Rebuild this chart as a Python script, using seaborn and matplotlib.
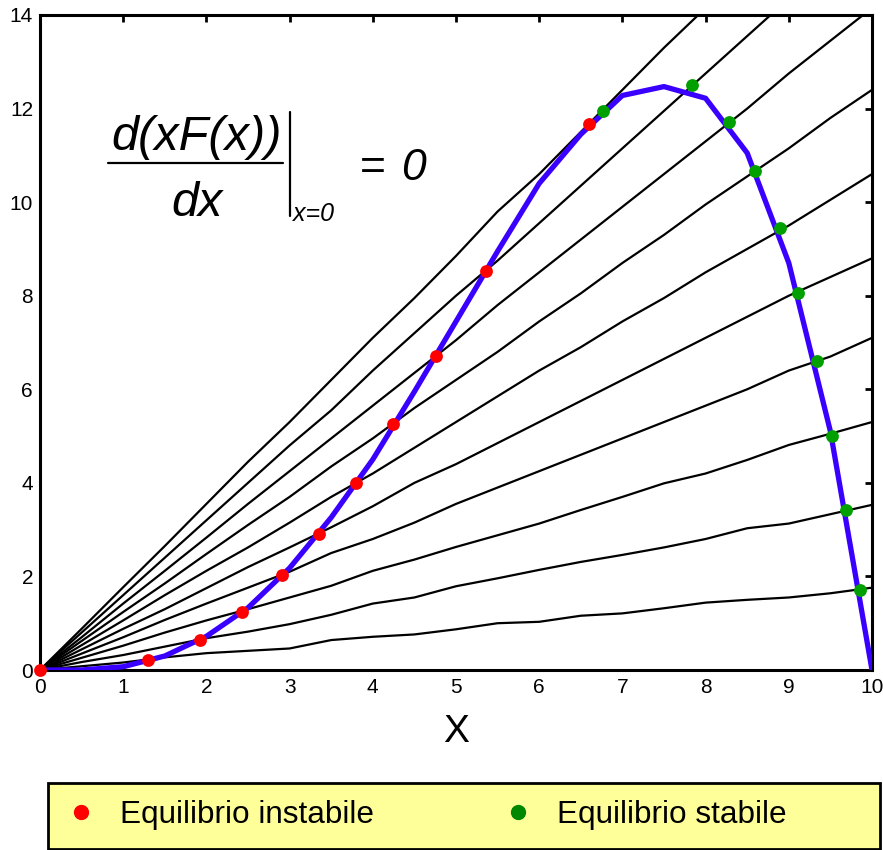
import matplotlib
matplotlib.use("Agg")
import matplotlib.pyplot as plt
from matplotlib.lines import Line2D
from matplotlib.patches import Rectangle
import numpy as np
import pandas as pd
import seaborn as sns

# ---- data -------------------------------------------------------------
x_grid = [0, 0.5, 1, 1.5, 2, 2.5, 3, 3.5, 4, 4.5, 5, 5.5, 6, 6.5, 7, 7.5, 8, 8.5, 9, 9.5, 10]

# family of (nearly straight) curves through the origin
line_1 = [0, 0.08, 0.16, 0.27, 0.36, 0.41, 0.46, 0.64, 0.71, 0.76, 0.87, 1.0, 1.03, 1.16, 1.21, 1.32, 1.44, 1.5, 1.55, 1.64, 1.76]
line_2 = [0, 0.17, 0.32, 0.5, 0.68, 0.82, 0.98, 1.18, 1.42, 1.55, 1.79, 1.96, 2.14, 2.31, 2.46, 2.62, 2.8, 3.03, 3.13, 3.33, 3.53]
line_3 = [0, 0.26, 0.52, 0.8, 1.06, 1.3, 1.55, 1.8, 2.12, 2.36, 2.63, 2.88, 3.13, 3.42, 3.70, 3.99, 4.2, 4.49, 4.81, 5.05, 5.3]
line_4 = [0, 0.35, 0.7, 1.07, 1.42, 1.76, 2.1, 2.5, 2.8, 3.15, 3.55, 3.9, 4.25, 4.6, 4.95, 5.3, 5.65, 6.0, 6.4, 6.7, 7.1]
line_5 = [0, 0.44, 0.88, 1.3, 1.75, 2.2, 2.62, 3.05, 3.5, 4.0, 4.4, 4.85, 5.3, 5.75, 6.2, 6.65, 7.1, 7.55, 8.0, 8.4, 8.8]
line_6 = [0, 0.53, 1.06, 1.6, 2.12, 2.62, 3.15, 3.7, 4.2, 4.75, 5.3, 5.85, 6.4, 6.9, 7.45, 7.95, 8.5, 9.0, 9.5, 10.05, 10.6]
line_7 = [0, 0.62, 1.24, 1.85, 2.48, 3.1, 3.7, 4.35, 4.95, 5.6, 6.2, 6.8, 7.45, 8.05, 8.7, 9.3, 9.95, 10.55, 11.15, 11.8, 12.4]
line_8 = [0, 0.7, 1.42, 2.12, 2.83, 3.55, 4.25, 4.95, 5.65, 6.35, 7.05, 7.8, 8.5, 9.2, 9.9, 10.6, 11.3, 12.0, 12.75, 13.45, 14.15]
line_9 = [0, 0.8, 1.6, 2.4, 3.2, 4.0, 4.8, 5.55, 6.4, 7.2, 8.0, 8.75, 9.55, 10.35, 11.15, 11.95, 12.75, 13.55, 14.35, 15.15, 15.95]
line_10 = [0, 0.88, 1.77, 2.65, 3.55, 4.45, 5.3, 6.2, 7.1, 7.95, 8.85, 9.8, 10.6, 11.5, 12.4, 13.3, 14.15, 15.0, 15.9, 16.8, 17.7]
family = [line_1, line_2, line_3, line_4, line_5, line_6, line_7, line_8, line_9, line_10]

# x F(x) curve
xf_curve = [0, 0, 0.07, 0.3, 0.72, 1.33, 2.18, 3.26, 4.5, 5.95, 7.45, 8.95, 10.4, 11.45, 12.28, 12.47, 12.22, 11.05, 8.7, 5.1, 0.0]

# equilibrium points
unstable_x = [0, 1.30, 1.92, 2.43, 2.91, 3.35, 3.80, 4.24, 4.76, 5.36, 6.60]
unstable_y = [0, 0.21, 0.64, 1.24, 2.03, 2.90, 4.00, 5.26, 6.71, 8.53, 11.67]
stable_x = [6.77, 7.84, 8.28, 8.59, 8.89, 9.11, 9.34, 9.52, 9.69, 9.86]
stable_y = [11.94, 12.50, 11.71, 10.66, 9.44, 8.06, 6.60, 5.00, 3.42, 1.71]

x_ticks = [0, 1, 2, 3, 4, 5, 6, 7, 8, 9, 10]
y_ticks = [0, 2, 4, 6, 8, 10, 12, 14]
legend_labels = ["Equilibrio instabile", "Equilibrio stabile"]

# ---- style ------------------------------------------------------------
sns.set_style("white")
plt.rcParams["font.family"] = ["Liberation Sans", "DejaVu Sans"]
plt.rcParams["text.color"] = "black"
plt.rcParams["axes.labelcolor"] = "black"
plt.rcParams["xtick.color"] = "black"
plt.rcParams["ytick.color"] = "black"

W, H = 883, 850
fig = plt.figure(figsize=(W / 100, H / 100), dpi=100)
ax = fig.add_axes([40 / W, (H - 670) / H, (872 - 40) / W, (670 - 15) / H])

fam_df = pd.DataFrame({
    "x": np.tile(x_grid, len(family)),
    "y": np.concatenate(family),
    "k": np.repeat(np.arange(len(family)), len(x_grid)),
})
sns.lineplot(data=fam_df, x="x", y="y", units="k", estimator=None, sort=False,
             color="black", linewidth=1.6, ax=ax, zorder=2)

sns.lineplot(x=x_grid, y=xf_curve, sort=False, color="#3a00ff", linewidth=3.8,
             ax=ax, zorder=3)

sns.scatterplot(x=unstable_x, y=unstable_y, color="#ff0000", s=85, linewidth=0,
                ax=ax, zorder=5, clip_on=False)
sns.scatterplot(x=stable_x, y=stable_y, color="#00a000", s=85, linewidth=0,
                ax=ax, zorder=5, clip_on=False)

ax.set_xlim(0, 10)
ax.set_ylim(0, 14)
ax.set_xticks(x_ticks)
ax.set_yticks(y_ticks)
ax.set_xticklabels([str(v) for v in x_ticks])
ax.set_yticklabels([str(v) for v in y_ticks])
ax.tick_params(axis="both", direction="in", length=5, width=2, labelsize=15,
               top=True, right=True, colors="black", labelcolor="black")
ax.tick_params(axis="x", pad=6)
ax.tick_params(axis="y", pad=5)
for s in ax.spines.values():
    s.set_visible(True)
    s.set_linewidth(2.2)
    s.set_color("black")
ax.set_xlabel("X", fontsize=28, labelpad=12, color="black")
ax.set_ylabel("")

# ---- formula ----------------------------------------------------------
def fx(px):
    return px / W

def fy(py):
    return 1 - py / H

fig.text(fx(197), fy(137), "d(xF(x))", fontsize=35, style="italic",
         ha="center", va="center")
fig.add_artist(Line2D([fx(108), fx(283)], [fy(163), fy(163)], color="black", lw=1.6))
fig.text(fx(197), fy(203), "dx", fontsize=35, style="italic", ha="center", va="center")
fig.add_artist(Line2D([fx(290), fx(290)], [fy(112), fy(216)], color="black", lw=1.6))
fig.text(fx(293), fy(214), "x=0", fontsize=18, style="italic", ha="left", va="center")
fig.text(fx(360), fy(168), "=", fontsize=32, ha="left", va="center")
fig.text(fx(401), fy(168), "0", fontsize=32, style="italic", ha="left", va="center")

# ---- legend box -------------------------------------------------------
fig.add_artist(Rectangle((fx(48), fy(849)), fx(880) - fx(48), fy(783) - fy(849),
                         transform=fig.transFigure, facecolor="#ffff99",
                         edgecolor="black", linewidth=2, zorder=0))
handles = [
    Line2D([], [], linestyle="none", marker="o", markersize=10, color="#ff0000"),
    Line2D([], [], linestyle="none", marker="o", markersize=10, color="#008800"),
]
fig.legend(handles, legend_labels, loc="center left",
           bbox_to_anchor=(fx(65), fy(815)), ncol=2, frameon=False,
           fontsize=22.7, handlelength=1.0, handletextpad=0.75, columnspacing=4.05,
           borderpad=0, borderaxespad=0)

fig.savefig("out.png", dpi=100)
